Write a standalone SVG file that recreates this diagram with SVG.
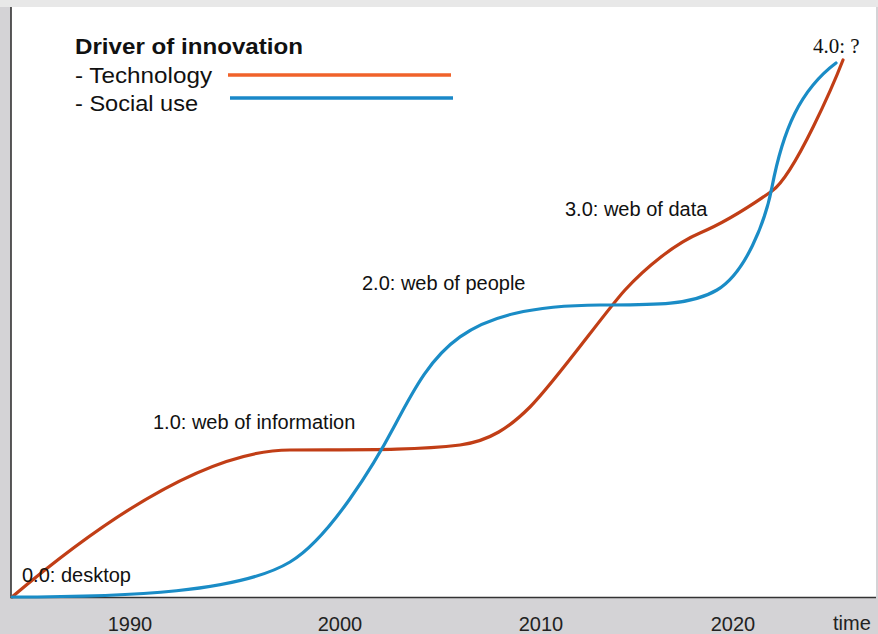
<svg xmlns="http://www.w3.org/2000/svg" width="878" height="634" viewBox="0 0 878 634">
<style>
.lbl{font-family:"Liberation Sans",Arial,sans-serif;font-size:20px;fill:#111}
.leg{font-family:"Liberation Sans",Arial,sans-serif;font-size:22px;fill:#111}
.ax{font-family:"Liberation Sans",Arial,sans-serif;font-size:20px;fill:#222}
.tech{fill:none;stroke:#c13e16;stroke-width:3.2;stroke-linecap:round}
.soc{fill:none;stroke:#1a8cc6;stroke-width:3.2;stroke-linecap:round}
</style>
<rect x="0" y="0" width="878" height="634" fill="#d4d3d6"/>
<rect x="0" y="0" width="878" height="7" fill="#e8e8e8"/>
<rect x="11" y="7" width="865" height="591" fill="#ffffff"/>
<g id="axes" stroke="#333" stroke-width="1.6">
<line x1="11" y1="7" x2="11" y2="598"/>
<line x1="10" y1="597.5" x2="876" y2="597.5"/>
</g>
<g id="legend">
<text x="75" y="54" class="leg" font-weight="bold" textLength="228" lengthAdjust="spacingAndGlyphs">Driver of innovation</text>
<text x="75" y="83" class="leg" textLength="137" lengthAdjust="spacingAndGlyphs">- Technology</text>
<text x="75" y="111" class="leg" textLength="123" lengthAdjust="spacingAndGlyphs">- Social use</text>
<line x1="228" y1="75" x2="451" y2="75" stroke="#f0622a" stroke-width="3.4"/>
<line x1="230" y1="98" x2="453" y2="98" stroke="#1a88c8" stroke-width="3.4"/>
</g>
<g id="connectors">
<path id="technology" class="tech" d="M12,597 C90,531 200,450 290,450 C350,449.5 410,451 460,445 C490,441 510,427 530,407 C555,382 605,312 625,290 C645,268 675,243.5 700,233 C725,222.5 755,203 772,191 C795,175 836,78 843,60"/>
<path id="social" class="soc" d="M12,597 C130,597 240,592 290,562 C330,538 375,463 395,425 C435,349 460,306 600,305 C650,305 690,306 717,290 C745,273.5 765,223 772,187 C783,130 800,90 836,63"/>
</g>
<g id="n00"><text x="22" y="582" class="lbl">0.0: desktop</text></g>
<g id="n10"><text x="153" y="429" class="lbl">1.0: web of information</text></g>
<g id="n20"><text x="362" y="290" class="lbl">2.0: web of people</text></g>
<g id="n30"><text x="565" y="216" class="lbl">3.0: web of data</text></g>
<g id="n40"><text x="813" y="53" font-family="'Liberation Serif','Times New Roman',serif" font-size="21" fill="#111">4.0: ?</text></g>
<g id="xaxis">
<text x="130" y="631" class="ax" text-anchor="middle">1990</text>
<text x="340" y="631" class="ax" text-anchor="middle">2000</text>
<text x="541" y="631" class="ax" text-anchor="middle">2010</text>
<text x="733" y="631" class="ax" text-anchor="middle">2020</text>
<text x="833" y="630" class="ax" font-size="22" fill="#111">time</text>
</g>
</svg>
